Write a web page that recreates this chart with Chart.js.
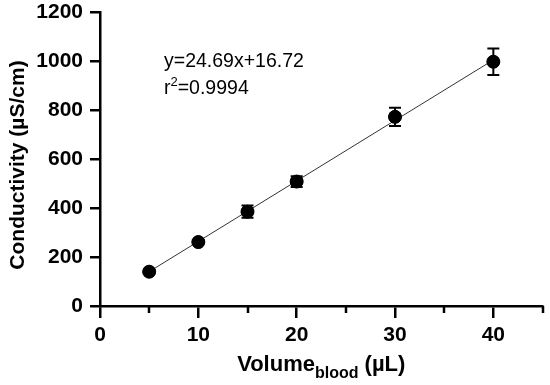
<!DOCTYPE html>
<html>
<head>
<meta charset="utf-8">
<script src="https://cdn.jsdelivr.net/npm/chart.js@4.4.1/dist/chart.umd.min.js"></script>
<style>
    html, body { margin: 0; padding: 0; background: #fff; }
    #wrap { width: 550px; height: 385px; position: relative; }
</style>
</head>
<body>
<div id="wrap"><canvas id="conductivityChart"></canvas></div>
<script>
// Data
const volumes = [5, 10, 15, 20, 30, 40];               // µL of blood
const conductivity = [140, 261, 385, 508, 772, 997];   // µS/cm (mean)
const errors = [6, 8, 25, 22, 37, 54];                 // ± error bar
const fitX = [5, 40];                                  // linear fit ends
const fitY = [140.17, 1004.32];
const yTicks = [0, 200, 400, 600, 800, 1000, 1200];
const fitLines = ['y=24.69x+16.72', '0.9994'];

const FONT = '"Liberation Sans", Arial, sans-serif';

// error bars, minor x ticks and the rich-text labels
const extrasPlugin = {
    id: 'extras',
    afterDatasetsDraw(chart) {
        const ctx = chart.ctx;
        const xs = chart.scales.x;
        const ys = chart.scales.y;
        ctx.save();
        ctx.strokeStyle = '#000';
        ctx.lineWidth = 2;
        volumes.forEach((v, i) => {
            const px = xs.getPixelForValue(v);
            const top = ys.getPixelForValue(conductivity[i] + errors[i]);
            const bot = ys.getPixelForValue(conductivity[i] - errors[i]);
            ctx.beginPath();
            ctx.moveTo(px, top); ctx.lineTo(px, bot);
            ctx.moveTo(px - 6, top); ctx.lineTo(px + 6, top);
            ctx.moveTo(px - 6, bot); ctx.lineTo(px + 6, bot);
            ctx.stroke();
        });
        // redraw markers on top of the bars
        ctx.fillStyle = '#000';
        volumes.forEach((v, i) => {
            ctx.beginPath();
            ctx.arc(xs.getPixelForValue(v), ys.getPixelForValue(conductivity[i]), 6.5, 0, Math.PI * 2);
            ctx.fill();
        });
        ctx.restore();
    },
    afterDraw(chart) {
        const ctx = chart.ctx;
        const xs = chart.scales.x;
        const area = chart.chartArea;
        ctx.save();
        // minor ticks on x
        ctx.strokeStyle = '#000';
        ctx.lineWidth = 2.5;
        [5, 15, 25, 35, 45].forEach(v => {
            const px = Math.round(xs.getPixelForValue(v));
            ctx.beginPath();
            ctx.moveTo(px, area.bottom);
            ctx.lineTo(px, area.bottom + 7);
            ctx.stroke();
        });

        ctx.fillStyle = '#000';
        ctx.textBaseline = 'alphabetic';

        // x title with subscript
        const bigX = 'bold 22px ' + FONT;
        const smallX = 'bold 16px ' + FONT;
        ctx.font = bigX;
        const w1 = ctx.measureText('Volume').width;
        const w3 = ctx.measureText(' (µL)').width;
        ctx.font = smallX;
        const w2 = ctx.measureText('blood').width;
        let x0 = (area.left + area.right) / 2 - (w1 + w2 + w3) / 2;
        ctx.textAlign = 'left';
        ctx.font = bigX;
        ctx.fillText('Volume', x0, 371);
        ctx.font = smallX;
        ctx.fillText('blood', x0 + w1, 378);
        ctx.font = bigX;
        ctx.fillText(' (µL)', x0 + w1 + w2, 371);

        // y title
        ctx.save();
        ctx.translate(24, (area.top + area.bottom) / 2 + 6);
        ctx.rotate(-Math.PI / 2);
        ctx.textAlign = 'center';
        ctx.font = 'bold 21px ' + FONT;
        ctx.fillText('Conductivity (µS/cm)', 0, 0);
        ctx.restore();

        // regression annotation
        ctx.textAlign = 'left';
        ctx.font = '19.5px ' + FONT;
        ctx.fillText(fitLines[0], 164, 67);
        ctx.fillText('r', 164, 94);
        const rw = ctx.measureText('r').width;
        ctx.font = '13px ' + FONT;
        ctx.fillText('2', 164 + rw, 86);
        const sw = ctx.measureText('2').width;
        ctx.font = '19.5px ' + FONT;
        ctx.fillText('=' + fitLines[1], 164 + rw + sw, 94);
        ctx.restore();
    }
};

new Chart(document.getElementById('conductivityChart'), {
    type: 'scatter',
    data: {
        datasets: [{
            label: 'Fit',
            data: fitX.map((x, i) => ({ x: x, y: fitY[i] })),
            showLine: true,
            borderColor: '#333',
            borderWidth: 1,
            pointRadius: 0,
            order: 2
        }, {
            label: 'Conductivity',
            data: volumes.map((v, i) => ({ x: v, y: conductivity[i] })),
            backgroundColor: '#000',
            borderColor: '#000',
            pointRadius: 6.5,
            order: 1
        }]
    },
    options: {
        responsive: true,
        maintainAspectRatio: false,
        animation: false,
        layout: {
            padding: { top: 12, right: 7, left: 0, bottom: 0 }
        },
        scales: {
            x: {
                type: 'linear',
                min: 0,
                max: 45,
                afterFit: scale => {
                    scale.height = 79;
                    scale.paddingLeft = 0;
                    scale.paddingRight = 0;
                },
                border: { color: '#000', width: 2.5 },
                grid: {
                    drawOnChartArea: false,
                    drawTicks: true,
                    tickLength: 12,
                    lineWidth: 2.5,
                    color: c => (c.tick && c.tick.value % 10 === 0) ? '#000' : 'rgba(0,0,0,0)'
                },
                ticks: {
                    stepSize: 5,
                    autoSkip: false,
                    maxRotation: 0,
                    padding: 5,
                    color: '#000',
                    font: { family: FONT, size: 21, weight: 'bold' },
                    callback: v => (v % 10 === 0 ? String(v) : '')
                }
            },
            y: {
                min: 0,
                max: 1200,
                afterFit: scale => {
                    scale.width = 100;
                    scale.paddingTop = 0;
                    scale.paddingBottom = 0;
                },
                afterBuildTicks: scale => { scale.ticks = yTicks.map(v => ({ value: v })); },
                border: { color: '#000', width: 2.5 },
                grid: {
                    drawOnChartArea: false,
                    drawTicks: true,
                    tickLength: 10,
                    lineWidth: 2.5,
                    color: '#000'
                },
                ticks: {
                    padding: 7,
                    color: '#000',
                    font: { family: FONT, size: 21, weight: 'bold' },
                    callback: v => String(v)
                }
            }
        },
        plugins: {
            legend: { display: false },
            tooltip: { enabled: false }
        }
    },
    plugins: [extrasPlugin]
});
</script>
</body>
</html>
